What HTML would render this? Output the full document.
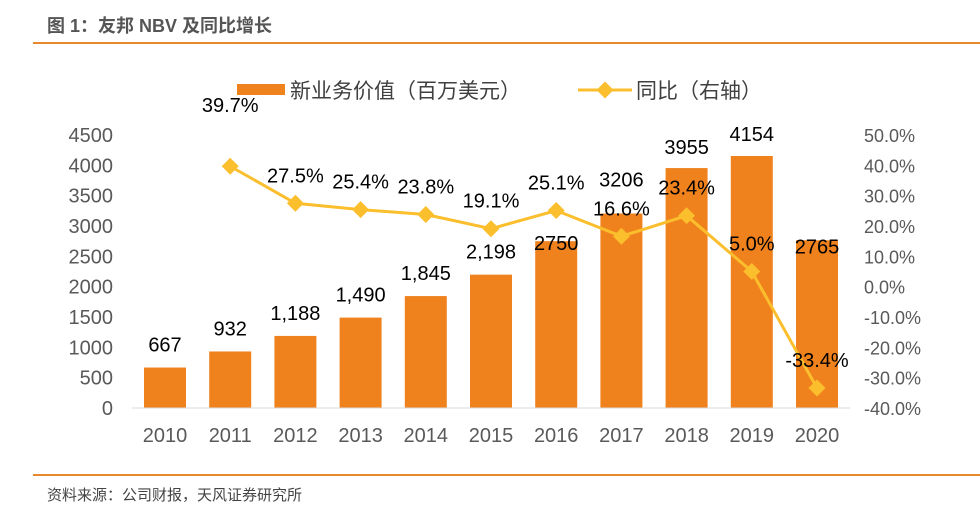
<!DOCTYPE html>
<html><head><meta charset="utf-8"><style>
body{margin:0;background:#fff;width:980px;height:521px;overflow:hidden}
svg{font-family:"Liberation Sans","Noto Sans CJK SC",sans-serif}
</style></head><body>
<svg id="c" width="980" height="521">
<text x="47" y="32" font-size="18" font-weight="bold" fill="#555">图 1：友邦 NBV 及同比增长</text>
<rect x="33" y="42" width="947" height="2" fill="#E8892B"/>
<g>
<rect x="237" y="84" width="48" height="11" fill="#F0821E"/>
<text x="290" y="98" font-size="21" fill="#404040">新业务价值（百万美元）</text>
<line x1="578" y1="90" x2="632" y2="90" stroke="#FBBE2C" stroke-width="3"/>
<rect x="599" y="84" width="12" height="12" fill="#FBBE2C" transform="rotate(45 605 90)"/>
<text x="636" y="98" font-size="21" fill="#404040">同比（右轴）</text>
</g>
<g id="plot"></g>
<rect x="33" y="474" width="947" height="2" fill="#E8892B"/>
<text x="47" y="500" font-size="15" fill="#444">资料来源：公司财报，天风证券研究所</text>
</svg>
<script>
const years=["2010","2011","2012","2013","2014","2015","2016","2017","2018","2019","2020"];
const nbv=[667,932,1188,1490,1845,2198,2750,3206,3955,4154,2765];
const nbvLabels=["667","932","1,188","1,490","1,845","2,198","2750","3206","3955","4154","2765"];
const yoy=[null,39.7,27.5,25.4,23.8,19.1,25.1,16.6,23.4,5.0,-33.4];
const leftTicks=[0,500,1000,1500,2000,2500,3000,3500,4000,4500];
const rightTicks=[-40,-30,-20,-10,0,10,20,30,40,50];
const NS="http://www.w3.org/2000/svg";
const g=document.getElementById('plot');
const x0=165,dx=65.2,yB=408,yT=135;
const xS=i=>x0+i*dx;
const yL=v=>yB-(v/4500)*(yB-yT);
const yR=v=>yB-((v+40)/90)*(yB-yT);
const barOff=[-16,-16,-16,-16,-16,-16,9,-27,-14,-15,13];
function mk(t,a,txt){const e=document.createElementNS(NS,t);for(const k in a)e.setAttribute(k,a[k]);if(txt!==undefined)e.textContent=txt;g.appendChild(e);return e;}
leftTicks.forEach(v=>{const e=mk('text',{x:113,y:yL(v)+7,'font-size':20,fill:'#595959','text-anchor':'end'},v);

});
rightTicks.forEach(v=>{const e=mk('text',{x:864,y:yR(v)+7,'font-size':18,fill:'#595959'},v.toFixed(1)+'%');

});
years.forEach((y,i)=>{
const b=mk('rect',{x:xS(i)-21,y:yL(nbv[i]),width:42,height:yB-yL(nbv[i]),fill:'#F0821E'});


const t=mk('text',{x:xS(i),y:yL(nbv[i])+barOff[i],'font-size':20,fill:'#000','text-anchor':'middle'},nbvLabels[i]);


const xl=mk('text',{x:xS(i),y:yB+34,'font-size':20,fill:'#595959','text-anchor':'middle'},y);


});
const ax=mk('line',{x1:132,y1:yB,x2:850,y2:yB,stroke:'#d9d9d9','stroke-width':1});


let pts=[];yoy.forEach((v,i)=>{if(v!==null)pts.push(xS(i)+','+yR(v));});
const pl=mk('polyline',{points:pts.join(' '),fill:'none',stroke:'#FBBE2C','stroke-width':3});


yoy.forEach((v,i)=>{if(v===null)return;
const m=mk('rect',{x:xS(i)-6,y:yR(v)-6,width:12,height:12,fill:'#FBBE2C',transform:`rotate(45 ${xS(i)} ${yR(v)})`});


const t=mk('text',{x:xS(i),y:yR(v)+(i===1?-54:-21),'font-size':20,fill:'#000','text-anchor':'middle'},v.toFixed(1)+'%');


});
</script>
</body></html>
